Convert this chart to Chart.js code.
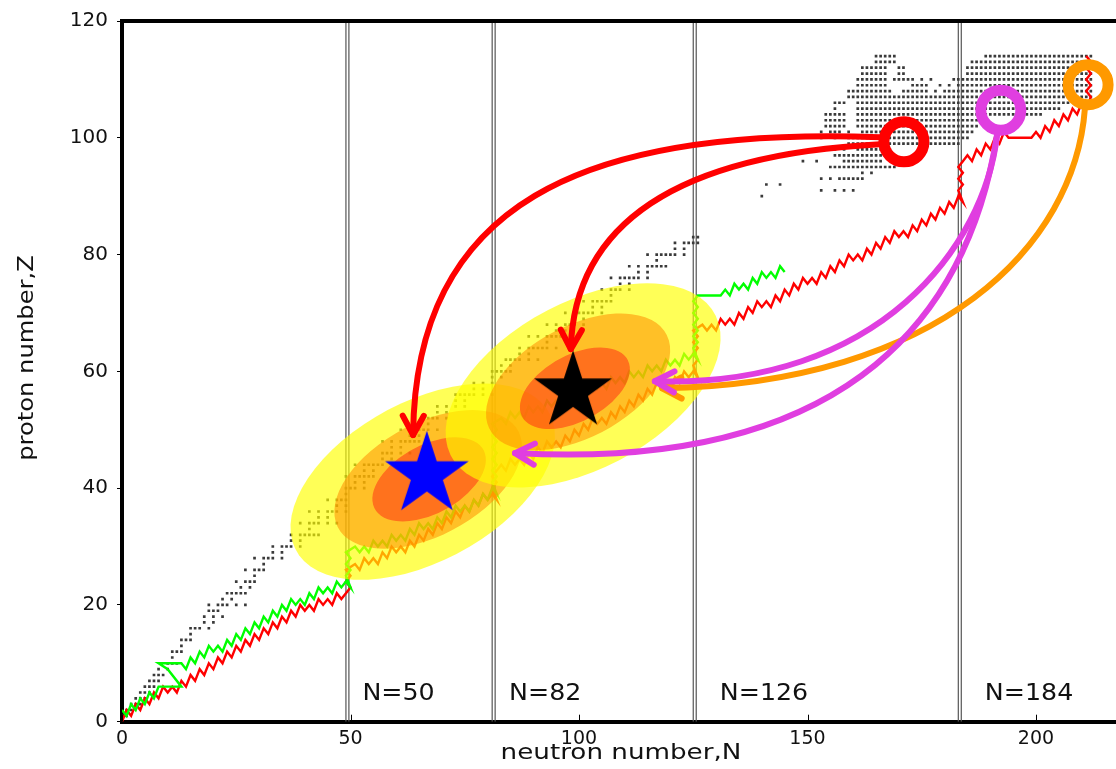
<!DOCTYPE html>
<html>
<head>
<meta charset="utf-8">
<title>r-process path on the nuclear chart</title>
<script src="https://cdn.jsdelivr.net/npm/chart.js@4.4.0/dist/chart.umd.min.js"></script>
<style>
  html, body { margin: 0; padding: 0; background: #fff; overflow: hidden; }
  #wrap { position: relative; width: 1130px; height: 769px; }
</style>
</head>
<body>
<div id="wrap"><canvas id="chart" width="1130" height="769"></canvas></div>
<script>
// ---- values (N = neutron number, Z = proton number) ----
const xTicks = [0, 50, 100, 150, 200]
const yTicks = [0, 20, 40, 60, 80, 100, 120]

const magicN = [50, 82, 126, 184]
const magicLabels = ['N=50', 'N=82', 'N=126', 'N=184']
const magicLabelN = [52.6, 84.7, 130.8, 188.8]
const magicLabelZ = 3.8

// known nuclei along the valley, one list of N per Z (Z = 1..83)
const bandN = [
  [0, 1], [1, 2], [2, 3, 4], [3, 4, 5], [4, 5, 6], [5, 6, 7], [6, 7, 8], [7, 8, 9], [8, 10], [10, 11, 12],
  [11], [11, 12, 13], [13], [13, 14, 15], [15], [15, 16, 17, 19], [18, 20], [18, 20, 22], [19, 20, 21], [19, 21, 22, 23, 25, 27],
  [22, 24], [23, 24, 25, 26, 27], [26, 28], [25, 27, 28, 29], [29], [27, 29, 30, 31], [31], [29, 31, 32, 33, 35], [33, 35], [33, 35, 36, 37, 39],
  [37, 39], [37, 39, 40, 41, 42, 43], [41], [39, 41, 42, 43, 45, 47], [43, 45], [41, 43, 45, 46, 47, 49], [47, 49], [45, 47, 48, 49], [49], [49, 50, 51, 53],
  [51, 53], [49, 51, 52, 53, 54, 55], [53, 55], [51, 53, 54, 55, 56, 57], [57, 59], [57, 58, 59, 61, 63], [59, 61], [57, 59, 61, 62, 63, 64, 65], [63, 65], [61, 63, 65, 66, 67, 69],
  [65, 67], [67, 68, 69, 71], [69, 71], [69, 71, 73, 75], [73, 75], [73, 74, 75, 76, 77, 79, 81], [77, 79], [77, 79, 81], [81, 83], [81, 82, 83, 84, 85],
  [83, 85], [84, 85, 86, 87, 89, 91], [87, 89], [87, 89, 90, 91, 92, 93, 95], [93], [89, 91, 93, 94, 95, 96, 97], [95, 97], [93, 95, 97, 98, 99, 101], [99, 101], [97, 99, 100, 101, 102, 103, 105],
  [103, 105], [101, 103, 104, 105, 106, 107], [107], [105, 107, 108, 109, 111], [109, 111], [107, 109, 110, 111, 112, 113, 115], [113, 115], [111, 113, 115, 116, 117, 118, 119], [117], [115, 117, 118, 119, 120, 121, 123],
  [121, 123], [121, 123, 124, 125, 126], [125, 126]
]

// superheavy region: [Z, first N, last N] runs of calculated nuclei
const heavyRows = [
  [114, 165, 169], [114, 189, 212],
  [113, 165, 169], [113, 186, 212],
  [112, 162, 167], [112, 170, 171], [112, 185, 212],
  [111, 162, 167], [111, 170, 171], [111, 185, 212],
  [110, 161, 167], [110, 169, 173], [110, 175, 175], [110, 177, 177], [110, 182, 212],
  [109, 161, 167], [109, 173, 176], [109, 179, 179], [109, 181, 181], [109, 183, 212],
  [108, 159, 168], [108, 171, 176], [108, 178, 178], [108, 180, 212],
  [107, 159, 212],
  [106, 156, 158], [106, 161, 207],
  [105, 156, 156], [105, 161, 205],
  [104, 154, 158], [104, 161, 201],
  [103, 154, 158], [103, 161, 188],
  [102, 154, 158], [102, 161, 187],
  [101, 153, 153], [101, 155, 157], [101, 159, 159], [101, 162, 186],
  [100, 153, 153], [100, 156, 156], [100, 159, 185],
  [99, 159, 183],
  [98, 156, 156], [98, 158, 158], [98, 161, 168],
  [97, 156, 167],
  [96, 149, 149], [96, 152, 152], [96, 158, 166],
  [95, 155, 169],
  [94, 162, 162], [94, 164, 164],
  [93, 153, 153], [93, 155, 155], [93, 157, 162],
  [92, 141, 141], [92, 144, 144],
  [91, 153, 153], [91, 156, 156], [91, 158, 158], [91, 160, 160],
  [90, 140, 140]
]

// r-process paths, [N, Z] vertices
const redPath = [
  [0, 0], [1, 2], [2, 1], [3, 3], [4, 2], [5, 4], [6, 3], [7, 5], [8, 4], [9, 6], [10, 5], [11, 6], [12, 5], [13, 7], [14, 6], [15, 8], [16, 7], [17, 9], [18, 8], [19, 10],
  [20, 9], [21, 11], [22, 10], [23, 12], [24, 11], [25, 13], [26, 12], [27, 14], [28, 13], [29, 15], [30, 14], [31, 16], [32, 15], [33, 17], [34, 16], [35, 18], [36, 17], [37, 19], [38, 18], [39, 20],
  [40, 19], [41, 20], [42, 19], [43, 21], [44, 20], [45, 21], [46, 20], [47, 22], [48, 21], [49, 22], [50, 23],
  [49, 24], [50, 25], [49, 26],
  [51, 27], [52, 26], [53, 28], [54, 27], [55, 28], [56, 27], [57, 29], [58, 28], [59, 30], [60, 29], [61, 30], [62, 29], [63, 31], [64, 30], [65, 32], [66, 31], [67, 33], [68, 32], [69, 34], [70, 33],
  [71, 35], [72, 34], [73, 36], [74, 35], [75, 37], [76, 36], [77, 38], [78, 37], [79, 39], [80, 38], [81, 39], [82, 38],
  [81, 40], [82, 41], [81, 42], [82, 43],
  [83, 44], [84, 43], [85, 45], [86, 44], [87, 45], [88, 44], [89, 46], [90, 45], [91, 47], [92, 46], [93, 48], [94, 47], [95, 48], [96, 47], [97, 49], [98, 48], [99, 50], [100, 49], [101, 51], [102, 50],
  [103, 52], [104, 51], [105, 52], [106, 51], [107, 53], [108, 52], [109, 54], [110, 53], [111, 55], [112, 54], [113, 56], [114, 55], [115, 57], [116, 56], [117, 58], [118, 57], [119, 58], [120, 57], [121, 59], [122, 58],
  [123, 60], [124, 59], [125, 60], [126, 59],
  [125, 61], [126, 62], [125, 63], [126, 64], [125, 65], [126, 66], [125, 67],
  [127, 68], [128, 67], [129, 68], [130, 67], [131, 69], [132, 68], [133, 69], [134, 68], [135, 70], [136, 69], [137, 71], [138, 70], [139, 72], [140, 71], [141, 72], [142, 71], [143, 73], [144, 72], [145, 74], [146, 73],
  [147, 75], [148, 74], [149, 76], [150, 75], [151, 76], [152, 75], [153, 77], [154, 76], [155, 78], [156, 77], [157, 79], [158, 78], [159, 80], [160, 79], [161, 80], [162, 79], [163, 81], [164, 80], [165, 82], [166, 81],
  [167, 83], [168, 82], [169, 84], [170, 83], [171, 84], [172, 83], [173, 85], [174, 84], [175, 86], [176, 85], [177, 87], [178, 86], [179, 88], [180, 87], [181, 89], [182, 88], [183, 90], [184, 89],
  [183, 91], [184, 92], [183, 93], [184, 94], [183, 95], [184, 96],
  [185, 97], [186, 96], [187, 98], [188, 97], [189, 99], [190, 98], [191, 100], [192, 99], [193, 101], [194, 100], [199, 100], [200, 101], [201, 100], [202, 102], [203, 101], [204, 103], [205, 102], [206, 104], [207, 103], [208, 105],
  [209, 104], [210, 106], [211, 105],
  [212, 107], [211, 108], [212, 109], [211, 110], [212, 111], [211, 112], [212, 113], [211, 114]
]

const greenPath = [
  [0, 2], [1, 1], [2, 3], [3, 2], [4, 4], [5, 3], [6, 5], [7, 4], [8, 6], [13, 6], [10, 9], [8, 10], [13, 10], [14, 9], [15, 11], [16, 10], [17, 12], [18, 11], [19, 13], [20, 12],
  [21, 13], [22, 12], [23, 14], [24, 13], [25, 15], [26, 14], [27, 16], [28, 15], [29, 17], [30, 16], [31, 18], [32, 17], [33, 19], [34, 18], [35, 20], [36, 19], [37, 21], [38, 20], [39, 21], [40, 20],
  [41, 22], [42, 21], [43, 23], [44, 22], [45, 23], [46, 22], [47, 24], [48, 23], [49, 24], [50, 23],
  [49, 25], [50, 26], [49, 27], [50, 28], [49, 29],
  [51, 30], [52, 29], [53, 30], [54, 29], [55, 31], [56, 30], [57, 31], [58, 30], [59, 32], [60, 31], [61, 32], [62, 31], [63, 33], [64, 32], [65, 34], [66, 33], [67, 34], [68, 33], [69, 35], [70, 34],
  [71, 36], [72, 35], [73, 37], [74, 36], [75, 37], [76, 36], [77, 38], [78, 37], [79, 39], [80, 38], [81, 40], [82, 39],
  [81, 41], [82, 42], [81, 43], [82, 44], [81, 45], [82, 46], [81, 47], [82, 48], [81, 49], [82, 50], [81, 51],
  [83, 52], [84, 51], [85, 53], [86, 52], [87, 53], [88, 52], [89, 54], [90, 53], [91, 54], [92, 53], [93, 55], [94, 54], [95, 55], [96, 54], [97, 56], [98, 55], [99, 57], [100, 56], [101, 57], [102, 56],
  [103, 58], [104, 57], [105, 58], [106, 57], [107, 59], [108, 58], [109, 59], [110, 58], [111, 60], [112, 59], [113, 60], [114, 59], [115, 61], [116, 60], [117, 61], [118, 60], [119, 62], [120, 61], [121, 62], [122, 61],
  [123, 63], [124, 62], [125, 63], [126, 62],
  [125, 64], [126, 65], [125, 66], [126, 67], [125, 68], [126, 69], [125, 70], [126, 71], [125, 72], [126, 73],
  [131, 73], [132, 74], [133, 73], [134, 75], [135, 74], [136, 75], [137, 74], [138, 76], [139, 75], [140, 77], [141, 76], [142, 77], [143, 76], [144, 78], [145, 77]
]

// abundance peaks: nested regions (outer, middle, inner) around each star
const ellipseN = [65.8, 67.0, 67.2, 100.9, 99.8, 99.1]
const ellipseZ = [41.1, 41.5, 41.5, 57.6, 58.2, 57.1]
const ellipseA = [30.3, 21.5, 13.0, 31.5, 21.1, 12.6]
const ellipseB = [14.2, 10.0, 6.1, 14.8, 9.9, 5.9]
const ellipseTilt = 19.6 // degrees, in N-Z units

const starN = [66.7, 98.7]
const starZ = [42.3, 56.6]

// fissioning nuclei (rings)
const ringN = [171.1, 192.3, 211.4]
const ringZ = [99.3, 104.7, 109.1]

// fission fragment arrows: start, control 1, control 2, tip
const arrowCurves = [
  [[210.7, 105.0], [208.5, 81.6], [179.0, 57.9], [118.2, 57.1]],
  [[191.5, 100.6], [188.8, 81.6], [165.9, 57.1], [116.6, 58.3]],
  [[191.5, 100.6], [185.6, 71.4], [161.5, 42.7], [86.0, 46.0]],
  [[165.9, 100.1], [100.2, 102.0], [64.1, 88.4], [63.7, 49.1]],
  [[165.9, 98.9], [124.3, 97.2], [99.0, 86.7], [98.2, 63.8]]
]

// ---- styles ----
const arrowColor = ['#ff9900', '#e03ee0', '#e03ee0', '#ff0000', '#ff0000']
const ringColor = ['#ff0000', '#e03ee0', '#ff9900']
const shellFill = ['rgba(255, 255, 0, 0.66)', 'rgba(255, 140, 0, 0.55)', 'rgba(255, 50, 20, 0.55)']
const FONT = "'DejaVu Sans', sans-serif"

Chart.defaults.font.family = FONT

// build point lists
const dotPoints = []
bandN.forEach((ns, i) => ns.forEach(n => dotPoints.push({ x: n, y: i + 1 })))
heavyRows.forEach(([z, n1, n2]) => {
  for (let n = n1; n <= n2; n++) dotPoints.push({ x: n, y: z })
})

const magicPoints = []
magicN.forEach(n => {
  [n - 1.0, n - 0.35].forEach(v => {
    magicPoints.push({ x: v, y: 0 }, { x: v, y: 120 }, { x: v, y: null })
  })
})

function makeStar(radius, color) {
  const c = document.createElement('canvas')
  const size = Math.ceil(radius * 2 + 4)
  c.width = size
  c.height = size
  const g = c.getContext('2d')
  g.translate(size / 2, size / 2)
  g.beginPath()
  for (let i = 0; i < 10; i++) {
    const r = i % 2 === 0 ? radius : radius * 0.382
    const a = -Math.PI / 2 + i * Math.PI / 5
    g.lineTo(r * Math.cos(a), r * Math.sin(a))
  }
  g.closePath()
  g.fillStyle = color
  g.fill()
  return c
}

function drawEllipses(chart) {
  const { ctx, chartArea, scales: { x, y } } = chart
  const kx = x.getPixelForValue(1) - x.getPixelForValue(0)
  const ky = y.getPixelForValue(0) - y.getPixelForValue(1)
  ctx.save()
  ctx.beginPath()
  ctx.rect(chartArea.left, chartArea.top, chartArea.width, chartArea.height)
  ctx.clip()
  for (let i = 0; i < ellipseN.length; i++) {
    ctx.save()
    ctx.translate(x.getPixelForValue(ellipseN[i]), y.getPixelForValue(ellipseZ[i]))
    ctx.scale(kx, -ky)
    ctx.beginPath()
    ctx.ellipse(0, 0, ellipseA[i], ellipseB[i], ellipseTilt * Math.PI / 180, 0, Math.PI * 2)
    ctx.restore()
    ctx.fillStyle = shellFill[i % 3]
    ctx.fill()
  }
  ctx.restore()
}

function drawArrows(chart) {
  const { ctx, scales: { x, y } } = chart
  const head = 22
  const spread = 0.5
  ctx.save()
  ctx.lineCap = 'round'
  ctx.lineJoin = 'round'
  arrowCurves.forEach((curve, i) => {
    const p = curve.map(([n, z]) => ({ x: x.getPixelForValue(n), y: y.getPixelForValue(z) }))
    ctx.strokeStyle = arrowColor[i]
    ctx.lineWidth = 6
    ctx.beginPath()
    ctx.moveTo(p[0].x, p[0].y)
    ctx.bezierCurveTo(p[1].x, p[1].y, p[2].x, p[2].y, p[3].x, p[3].y)
    ctx.stroke()
    const ang = Math.atan2(p[3].y - p[2].y, p[3].x - p[2].x)
    ctx.beginPath()
    ctx.moveTo(p[3].x - head * Math.cos(ang - spread), p[3].y - head * Math.sin(ang - spread))
    ctx.lineTo(p[3].x, p[3].y)
    ctx.lineTo(p[3].x - head * Math.cos(ang + spread), p[3].y - head * Math.sin(ang + spread))
    ctx.stroke()
  })
  ctx.restore()
}

function stretchedText(ctx, text, x, y, size, sx, rotate) {
  ctx.save()
  ctx.translate(x, y)
  if (rotate) ctx.rotate(-Math.PI / 2)
  ctx.scale(sx, 1)
  ctx.font = size + 'px ' + FONT
  ctx.fillStyle = '#111'
  ctx.fillText(text, 0, 0)
  ctx.restore()
}

const chartExtras = {
  id: 'chartExtras',
  beforeDatasetDraw(chart, args) {
    if (chart.data.datasets[args.index].label === 'stars') drawEllipses(chart)
  },
  afterDatasetDraw(chart, args) {
    if (chart.data.datasets[args.index].label === 'stars') drawArrows(chart)
  },
  afterDraw(chart) {
    const { ctx, chartArea, scales: { x, y } } = chart
    ctx.save()
    // top frame line
    ctx.strokeStyle = '#000'
    ctx.lineWidth = 4
    ctx.beginPath()
    ctx.moveTo(chartArea.left - 2, chartArea.top)
    ctx.lineTo(chart.width, chartArea.top)
    ctx.stroke()
    // inward x ticks
    ctx.lineWidth = 1
    xTicks.forEach(v => {
      const px = Math.round(x.getPixelForValue(v)) + 0.5
      ctx.beginPath()
      ctx.moveTo(px, chartArea.bottom)
      ctx.lineTo(px, chartArea.bottom - 7)
      ctx.stroke()
    })
    // magic number labels
    ctx.textAlign = 'left'
    ctx.textBaseline = 'alphabetic'
    magicLabels.forEach((t, i) => {
      stretchedText(ctx, t, x.getPixelForValue(magicLabelN[i]), y.getPixelForValue(magicLabelZ), 23, 1.1, false)
    })
    // axis titles
    ctx.textAlign = 'center'
    stretchedText(ctx, 'neutron number,N', 621, 759, 22, 1.19, false)
    stretchedText(ctx, 'proton number,Z', 33, 358, 22, 1.1, true)
    ctx.restore()
  }
}

new Chart(document.getElementById('chart'), {
  type: 'scatter',
  data: {
    datasets: [
      {
        label: 'rings',
        order: 0,
        data: ringN.map((n, i) => ({ x: n, y: ringZ[i] })),
        pointStyle: 'circle',
        pointRadius: 20,
        pointBorderWidth: 11,
        pointBorderColor: ringColor,
        pointBackgroundColor: 'rgba(0, 0, 0, 0)'
      },
      {
        label: 'stars',
        order: 5,
        data: starN.map((n, i) => ({ x: n, y: starZ[i] })),
        pointStyle: [makeStar(44, '#0000ff'), makeStar(41, '#000000')],
        pointRadius: 10
      },
      {
        label: 'green path',
        order: 7,
        data: greenPath.map(([n, z]) => ({ x: n, y: z })),
        showLine: true,
        borderColor: '#00ff00',
        borderWidth: 2.4,
        pointRadius: 0,
        tension: 0
      },
      {
        label: 'red path',
        order: 8,
        data: redPath.map(([n, z]) => ({ x: n, y: z })),
        showLine: true,
        borderColor: '#ff0000',
        borderWidth: 2.4,
        pointRadius: 0,
        tension: 0
      },
      {
        label: 'nuclei',
        order: 9,
        data: dotPoints,
        pointStyle: 'rect',
        pointRadius: 1.9,
        pointBorderWidth: 0,
        pointBackgroundColor: '#3a3a3a'
      },
      {
        label: 'magic',
        order: 10,
        data: magicPoints,
        showLine: true,
        spanGaps: false,
        borderColor: '#555',
        borderWidth: 1.2,
        pointRadius: 0
      }
    ]
  },
  options: {
    responsive: false,
    devicePixelRatio: 1,
    animation: false,
    events: [],
    layout: { autoPadding: false, padding: { left: 0, right: 2.6, top: 13.7, bottom: 0 } },
    plugins: {
      legend: { display: false },
      tooltip: { enabled: false }
    },
    scales: {
      x: {
        type: 'linear',
        min: 0,
        max: 220,
        afterBuildTicks: s => { s.ticks = xTicks.map(v => ({ value: v })) },
        afterFit: s => { s.height = 47.3 },
        grid: { display: false, drawTicks: false },
        border: { display: true, color: '#000', width: 4 },
        ticks: { color: '#111', font: { size: 19 }, padding: 6, maxRotation: 0 }
      },
      y: {
        type: 'linear',
        min: 0,
        max: 120,
        afterBuildTicks: s => { s.ticks = yTicks.map(v => ({ value: v })) },
        afterFit: s => { s.width = 122 },
        grid: { display: true, drawOnChartArea: false, drawTicks: true, tickLength: 5, color: '#000', tickColor: '#000', lineWidth: 1 },
        border: { display: true, color: '#000', width: 4 },
        ticks: { color: '#111', font: { size: 20 }, padding: 9 }
      }
    }
  },
  plugins: [chartExtras]
})
</script>
</body>
</html>
